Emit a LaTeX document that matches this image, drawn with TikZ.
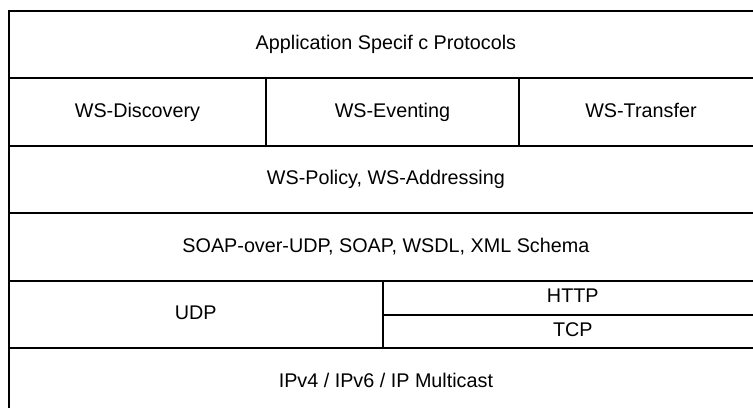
\documentclass[tikz,border=0pt]{standalone}
\usepackage{fontspec}
\setmainfont{Liberation Sans}
\usepackage{tikz}

\tikzset{
    layer/.style={draw, line width=1.1pt, anchor=north west, inner sep=0pt,
        text height=0.76em, text depth=0.2em,
        font=\fontsize{11.25}{13}\selectfont},
}

\begin{document}
\begin{tikzpicture}[x=0.02cm, y=-0.02cm]
        \useasboundingbox (0, 0) rectangle (753, 408);
        \clip (0, 0) rectangle (753, 408);

        % full-width layers, top to bottom
        \node[layer, minimum width=15.08cm, minimum height=1.35cm] (app) at (8, 10) {Application Specif c Protocols};

        \node[layer, minimum width=5.14cm, minimum height=1.35cm] (disc) at (8, 77.5) {WS-Discovery};
        \node[layer, minimum width=5.06cm, minimum height=1.35cm] (evt) at (265, 77.5) {WS-Eventing};
        \node[layer, minimum width=4.88cm, minimum height=1.35cm] (xfer) at (518, 77.5) {WS-Transfer};

        \node[layer, minimum width=15.08cm, minimum height=1.35cm] (policy) at (8, 145) {WS-Policy, WS-Addressing};
        \node[layer, minimum width=15.08cm, minimum height=1.35cm] (soap) at (8, 212.5) {SOAP-over-UDP, SOAP, WSDL, XML Schema};

        \node[layer, minimum width=7.474cm, minimum height=1.35cm] (udp) at (8, 280) {UDP};
        \node[layer, minimum width=7.606cm, minimum height=0.675cm] (http) at (381.7, 280) {HTTP};
        \node[layer, minimum width=7.606cm, minimum height=0.675cm] (tcp) at (381.7, 313.75) {TCP};

        \node[layer, minimum width=15.08cm, minimum height=1.35cm] (ip) at (8, 347.5) {IPv4 / IPv6 / IP Multicast};
    \end{tikzpicture}
\end{document}
